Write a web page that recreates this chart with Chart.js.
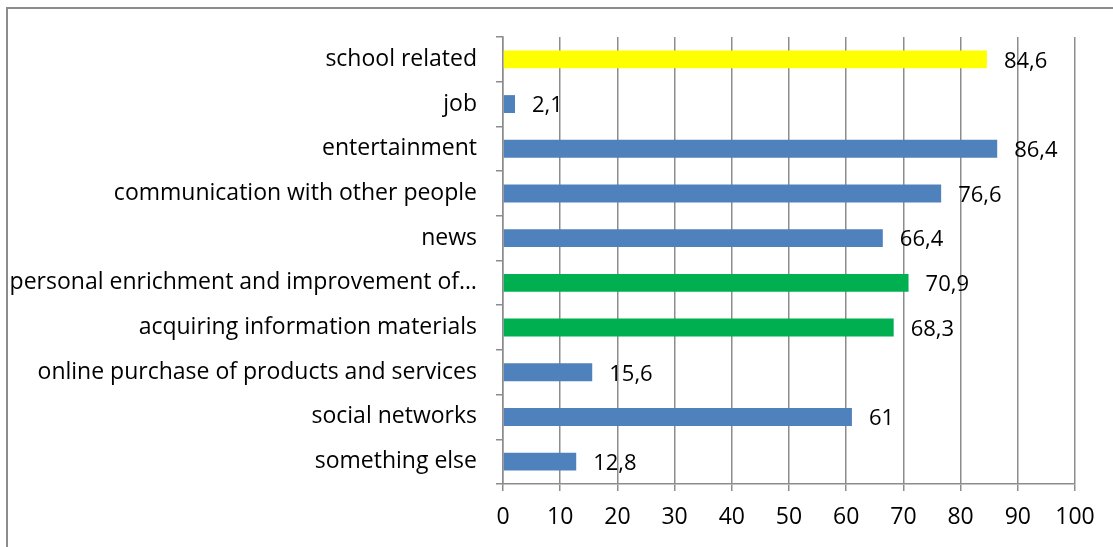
<!DOCTYPE html>
<html>
<head>
<meta charset="utf-8">
<script src="https://cdn.jsdelivr.net/npm/chart.js@4.4.1/dist/chart.umd.min.js"></script>
<style>
    html, body { margin: 0; padding: 0; background: #fff; overflow: hidden; }
    #wrap { position: relative; width: 1113px; height: 547px; overflow: hidden; }
    #frame { position: absolute; left: 6px; top: 7px; width: 1200px; height: 600px; border: 2px solid #8c8c8c; box-sizing: border-box; }
    canvas { position: absolute; left: 0; top: 0; }
</style>
</head>
<body>
<div id="wrap">
    <div id="frame"></div>
    <canvas id="usoChart" width="1113" height="547"></canvas>
</div>
<script>
const categorias = ['school related', 'job', 'entertainment', 'communication with other people', 'news',
    'personal enrichment and improvement of…', 'acquiring information materials',
    'online purchase of products and services', 'social networks', 'something else'];
const valores = [84.6, 2.1, 86.4, 76.6, 66.4, 70.9, 68.3, 15.6, 61, 12.8];
const colores = ['#FFFF00', '#4F81BD', '#4F81BD', '#4F81BD', '#4F81BD', '#00B050', '#00B050', '#4F81BD', '#4F81BD', '#4F81BD'];
const ticksX = [0, 10, 20, 30, 40, 50, 60, 70, 80, 90, 100];

const fuente = "'Open Sans', 'Noto Sans', sans-serif";

// etiquetas de valor al final de cada barra, con coma decimal
const etiquetasValor = {
    id: 'etiquetasValor',
    afterDatasetsDraw(chart) {
        const ctx = chart.ctx;
        const meta = chart.getDatasetMeta(0);
        ctx.save();
        ctx.fillStyle = '#000';
        ctx.font = '22px ' + fuente;
        ctx.textAlign = 'left';
        ctx.textBaseline = 'middle';
        meta.data.forEach((bar, i) => {
            const txt = String(valores[i]).replace('.', ',');
            ctx.fillText(txt, bar.x + 17, bar.y + 2);
        });
        ctx.restore();
    }
};

const ctx = document.getElementById('usoChart').getContext('2d');
new Chart(ctx, {
    type: 'bar',
    data: {
        labels: categorias,
        datasets: [{
            data: valores,
            backgroundColor: colores,
            barPercentage: 0.4,
            categoryPercentage: 1
        }]
    },
    options: {
        indexAxis: 'y',
        responsive: false,
        animation: false,
        layout: { padding: { top: 37, right: 38, left: 0, bottom: 0 } },
        plugins: {
            legend: { display: false },
            tooltip: { enabled: false }
        },
        scales: {
            x: {
                min: 0,
                max: 100,
                afterBuildTicks(scale) {
                    scale.ticks = ticksX.map(v => ({ value: v }));
                },
                afterFit(scale) { scale.height = 63; },
                grid: {
                    color: '#8c8c8c',
                    lineWidth: 1.5,
                    tickLength: 7
                },
                border: { color: '#8c8c8c', width: 1.5 },
                ticks: {
                    color: '#000',
                    padding: 13,
                    font: { family: fuente, size: 23 }
                }
            },
            y: {
                afterFit(scale) { scale.width = 503; },
                grid: {
                    drawOnChartArea: false,
                    color: '#8c8c8c',
                    lineWidth: 1.5,
                    tickLength: 7
                },
                border: { color: '#8c8c8c', width: 1.5 },
                ticks: {
                    color: '#000',
                    padding: 19,
                    autoSkip: false,
                    font: { family: fuente, size: 23 }
                }
            }
        }
    },
    plugins: [etiquetasValor]
});
</script>
</body>
</html>
